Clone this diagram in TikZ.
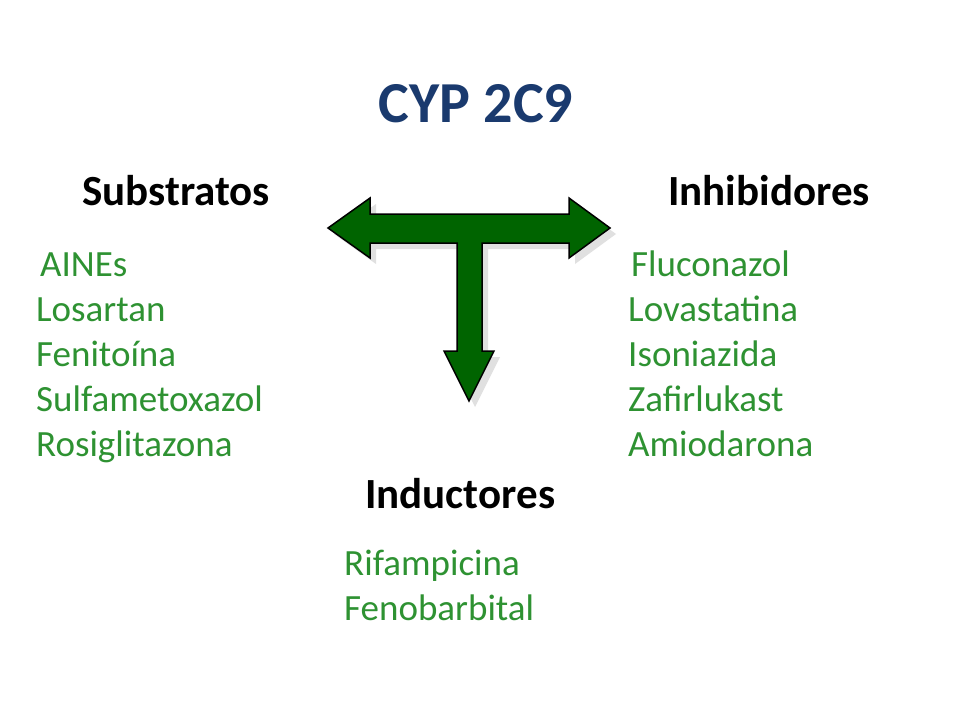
\documentclass[tikz,border=0pt]{standalone}
\usepackage{fontspec}
\setmainfont{Carlito}
\definecolor{titleblue}{HTML}{1A3A6E}
\definecolor{itemgreen}{HTML}{2E9232}
\definecolor{arrowgreen}{HTML}{006400}
\begin{document}
\begin{tikzpicture}[x=1pt,y=-1pt,
  item/.style={anchor=base west,inner sep=0pt,text=itemgreen,font=\fontsize{37}{37}\selectfont},
  head/.style={anchor=base west,inner sep=0pt,text=black,font=\bfseries\fontsize{43}{43}\selectfont}]
\useasboundingbox[fill=white] (0,0) rectangle (960,720);
\node[anchor=base,inner sep=0pt,text=titleblue,font=\bfseries\fontsize{58}{58}\selectfont] (title) at (476,122) {CYP 2C9};
\node[head] (sub) at (82,205) {Substratos};
\node[head] (inh) at (668,205) {Inhibidores};
\node[head] (ind) at (365,508) {Inductores};
\node[item] (s1) at (40,276) {AINEs};
\node[item] (s2) at (36,321) {Losartan};
\node[item] (s3) at (36,366) {Fenitoína};
\node[item] (s4) at (36,411) {Sulfametoxazol};
\node[item] (s5) at (36,456) {Rosiglitazona};
\node[item] (i1) at (631,276) {Fluconazol};
\node[item] (i2) at (628,321) {Lovastatina};
\node[item] (i3) at (628,366) {Isoniazida};
\node[item] (i4) at (628,411) {Zafirlukast};
\node[item] (i5) at (628,456) {Amiodarona};
\node[item] (d1) at (344,575) {Rifampicina};
\node[item] (d2) at (344,620) {Fenobarbital};
\def\tarrow{(328,228) -- (370,198) -- (370,214) -- (569,214) -- (569,198) -- (610,228) -- (569,258) -- (569,243) -- (482,243) -- (482,351) -- (494,351) -- (469,401) -- (444,351) -- (457,351) -- (457,243) -- (370,243) -- (370,258) -- cycle}
\fill[black!12,shift={(6,6)}] \tarrow;
\draw[fill=arrowgreen,line width=1.5pt,line join=miter] \tarrow;
\end{tikzpicture}
\end{document}
